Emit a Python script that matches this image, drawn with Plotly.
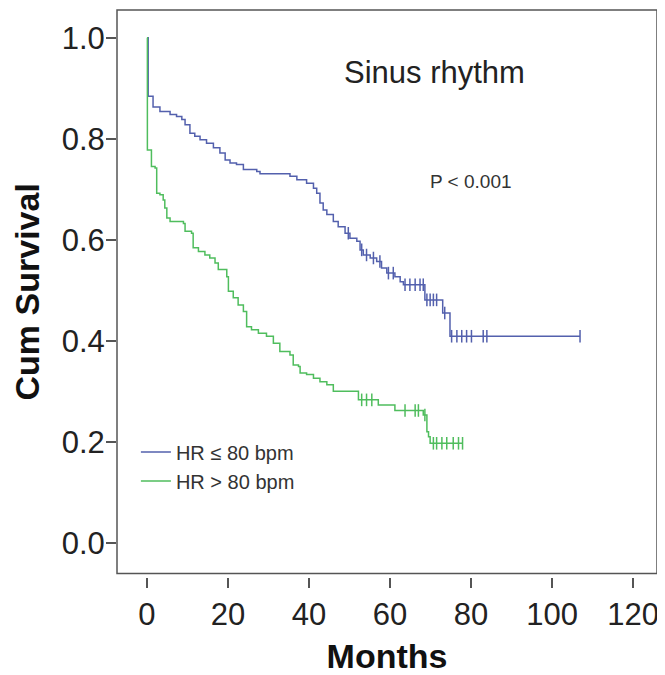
import numpy as np
import plotly.graph_objects as go

# ---- data ----
blue_name = "HR \u2264 80 bpm"
blue_t = [0, 0.3, 1.5, 3.2, 5.7, 7.3, 8.6, 9.4, 10.6, 11.8, 13.1, 14.7, 16.4, 18.0, 19.3,
          20.5, 22.1, 23.8, 27.1, 27.9, 35.3, 37.0, 39.4, 41.1, 41.9, 42.7, 43.5, 44.4,
          46.0, 47.2, 48.9, 50.1, 51.8, 52.6, 53.4, 55.1, 56.7, 57.9, 59.2, 61.2, 62.5,
          63.3, 68.6, 73.0, 74.8]
blue_s = [1.0, 0.884, 0.863, 0.854, 0.848, 0.844, 0.838, 0.828, 0.811, 0.805, 0.798, 0.791,
          0.782, 0.772, 0.758, 0.752, 0.749, 0.739, 0.735, 0.731, 0.726, 0.719, 0.712, 0.702,
          0.692, 0.673, 0.659, 0.650, 0.636, 0.626, 0.613, 0.603, 0.597, 0.580, 0.570, 0.564,
          0.557, 0.544, 0.534, 0.527, 0.517, 0.511, 0.481, 0.455, 0.409]
blue_censor = [49.7, 53.0, 54.2, 55.9, 57.5, 59.6, 60.8, 63.7, 64.9, 66.2, 67.4, 68.2,
               69.1, 69.9, 70.7, 71.5, 73.5, 75.2, 76.5, 77.7, 78.9, 80.1, 83.0, 83.9, 106.9]

green_name = "HR > 80 bpm"
green_t = [0, 0.1, 1.1, 2.0, 2.4, 3.2, 4.0, 4.4, 4.9, 5.7, 9.0, 9.4, 11.0, 11.4, 12.7, 14.3,
           15.5, 16.8, 17.6, 19.7, 20.1, 21.3, 22.5, 23.8, 24.6, 25.8, 27.5, 29.5, 31.2,
           32.8, 35.3, 36.1, 37.4, 37.8, 39.4, 41.1, 42.7, 44.4, 46.0, 52.2, 57.1, 61.2,
           68.2, 69.1, 69.5, 69.9]
green_s = [1.0, 0.778, 0.745, 0.742, 0.692, 0.689, 0.679, 0.663, 0.643, 0.636, 0.632, 0.617,
           0.613, 0.584, 0.577, 0.570, 0.564, 0.554, 0.541, 0.527, 0.498, 0.485, 0.471,
           0.458, 0.428, 0.422, 0.415, 0.409, 0.395, 0.379, 0.372, 0.352, 0.349, 0.336,
           0.333, 0.326, 0.319, 0.313, 0.300, 0.283, 0.273, 0.262, 0.253, 0.220, 0.210, 0.197]
green_censor = [53.0, 54.2, 55.5, 63.7, 66.2, 67.0, 68.6, 70.7, 71.5, 72.8, 74.0, 75.6,
                76.9, 77.9]

x_ticks = [0, 20, 40, 60, 80, 100, 120]
y_ticks = [0.0, 0.2, 0.4, 0.6, 0.8, 1.0]

BLUE = "#5360ad"
GREEN = "#4fbd5d"
FONT = "Liberation Sans, Arial, sans-serif"


def step_at(times, surv, q):
    idx = np.searchsorted(np.asarray(times), np.asarray(q), side="right") - 1
    return list(np.asarray(surv)[idx])


fig = go.Figure()
for name, t, s, c, col in [(blue_name, blue_t, blue_s, blue_censor, BLUE),
                           (green_name, green_t, green_s, green_censor, GREEN)]:
    xs = list(t) + [max(c)]
    ys = list(s) + [s[-1]]
    fig.add_trace(go.Scatter(x=xs, y=ys, mode="lines", line=dict(shape="hv", color=col, width=1.5),
                             name=name, legendgroup=name, showlegend=True))
    fig.add_trace(go.Scatter(x=c, y=step_at(t, s, c), mode="markers",
                             marker=dict(symbol="line-ns", size=9, line=dict(color=col, width=1.5)),
                             legendgroup=name, showlegend=False, hoverinfo="skip"))

fig.update_layout(
    width=657, height=667,
    margin=dict(l=109, r=8, t=2, b=98),
    paper_bgcolor="white", plot_bgcolor="white",
    font=dict(family=FONT, color="#222"),
    showlegend=True,
    legend=dict(x=0.035, y=0.255, xanchor="left", yanchor="top", bgcolor="rgba(0,0,0,0)",
                font=dict(size=20, color="#333"), tracegroupgap=0, traceorder="grouped",
                itemwidth=30),
    xaxis=dict(range=[-7.4, 125.9], tickvals=x_ticks, ticks="outside", ticklen=10, tickwidth=1.5,
               tickcolor="#555", showline=False, showgrid=False, zeroline=False,
               anchor="free", position=0,
               tickfont=dict(size=31, color="#222"),
               title=dict(text="<b>Months</b>", font=dict(size=34, color="#111"), standoff=16)),
    yaxis=dict(range=[-0.061, 1.055], domain=[0.006, 1], tickvals=y_ticks, tickformat=".1f",
               ticks="outside", ticklen=10, tickwidth=1.5, tickcolor="#555",
               ticklabelstandoff=-5,
               showline=False, showgrid=False, zeroline=False,
               tickfont=dict(size=31, color="#222"),
               title=dict(text="<b>Cum Survival</b>", font=dict(size=34, color="#111"), standoff=12)),
    shapes=[dict(type="rect", xref="x domain", yref="y domain", x0=0, x1=1, y0=0, y1=1,
                 line=dict(color="#555", width=1.5), layer="above")],
    annotations=[
        dict(text="Sinus rhythm", xref="x", yref="y", x=70.9, y=0.931, showarrow=False,
             font=dict(size=31, color="#222"), xanchor="center", yanchor="middle"),
        dict(text="P < 0.001", xref="x", yref="y", x=80.0, y=0.715, showarrow=False,
             font=dict(size=19, color="#333"), xanchor="center", yanchor="middle"),
    ],
)

fig.write_html("out.html")
